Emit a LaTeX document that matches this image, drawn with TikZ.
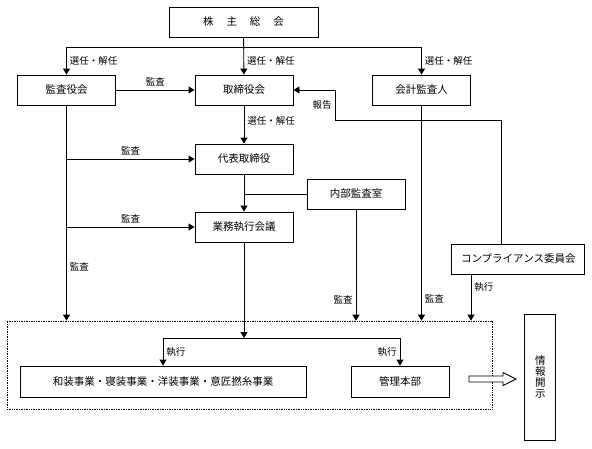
\documentclass[tikz,border=0pt]{standalone}
\usepackage{fontspec}
\setmainfont{Noto Sans CJK JP}
\usetikzlibrary{arrows.meta}

\begin{document}
\begin{tikzpicture}[x=1pt, y=-1pt, line width=0.9pt,
  org/.style={draw=black, minimum width=98pt, minimum height=30pt, inner sep=0pt, font=\fontsize{10.5}{12}\selectfont},
  lbl/.style={font=\fontsize{9.5}{11}\selectfont, inner sep=3pt},
  >={Triangle[length=6pt, width=7pt]}]
  \useasboundingbox (0,0) rectangle (592,448);

  \node[org, minimum width=149pt] (agm) at (243.5,22) {株\hspace{13pt}主\hspace{13pt}総\hspace{13pt}会};

  \node[org] (kansa) at (66.5,90) {監査役会};
  \node[org] (board) at (244,90) {取締役会};
  \node[org] (auditor) at (421.5,90) {会計監査人};

  \coordinate (split) at (244,47);
  \path[->] (agm) edge node [lbl, pos=0.63, right] {選任・解任} (board);
  \draw[->] (split) -| node [lbl, pos=0.75, right] {選任・解任} (kansa);
  \draw[->] (split) -| node [lbl, pos=0.75, right] {選任・解任} (auditor);
  \path[->] (kansa) edge node [lbl, midway, above] {監査} (board);

  \node[org] (ceo) at (244,159) {代表取締役};
  \path[->] (board) edge node [lbl, pos=0.4, right] {選任・解任} (ceo);

  \node[org] (internal) at (356,194) {内部監査室};
  \node[org] (exec) at (244,227) {業務執行会議};
  \path[->] (ceo) edge (exec);
  \draw (internal) -- (internal -| ceo);

  \node[org, minimum width=133pt] (comp) at (518.3,259) {コンプライアンス委員会};

  \node[draw, densely dotted, line width=0.7pt, minimum width=485pt, minimum height=88pt] (group) at (249.5,365) {};

  % audits
  \draw[->] (kansa) -- node [lbl, pos=0.75, right] {監査} (kansa |- group.north);
  \draw[->] (kansa |- ceo) -- node [lbl, midway, above] {監査} (ceo);
  \draw[->] (kansa |- exec) -- node [lbl, midway, above] {監査} (exec);
  \draw[->] (internal) -- node [lbl, pos=0.81, left] {監査} (internal |- group.north);
  \draw[->] (auditor) -- node [lbl, pos=0.9, right] {監査} (auditor |- group.north);

  % compliance
  \coordinate (rep) at (335,120);
  \draw[->] ([xshift=-16.6pt]comp.north) |- (rep) |- node [lbl, pos=0.25, left] {報告} (board);
  \draw[->] ([xshift=-47.3pt]comp.south) -- node [lbl, pos=0.28, right] {執行} ([xshift=-47.3pt]comp.south |- group.north);

  % execution
  \node[org, minimum width=286pt, minimum height=31pt] (biz) at (163,381.5) {和装事業・寝装事業・洋装事業・意匠撚糸事業};
  \node[org, minimum height=31pt] (hq) at (400,381.5) {管理本部};
  \coordinate (fork) at (244,338);
  \draw[->] (exec) -- (fork);
  \draw[->] (fork) -| node [lbl, pos=0.75, right] {執行} (biz);
  \draw[->] (fork) -| node [lbl, pos=0.75, left] {執行} (hq);

  % disclosure
  \node[org, minimum width=31pt, minimum height=126pt, align=center, font=\fontsize{10.5}{11}\selectfont] (ir) at (540.3,377) {情\\報\\開\\示};
  \draw[line join=miter, fill=white] (469,376) -- (503,376) -- (503,372.5) -- (516,379) -- (503,385.5) -- (503,382) -- (469,382) -- cycle;

\end{tikzpicture}
\end{document}
